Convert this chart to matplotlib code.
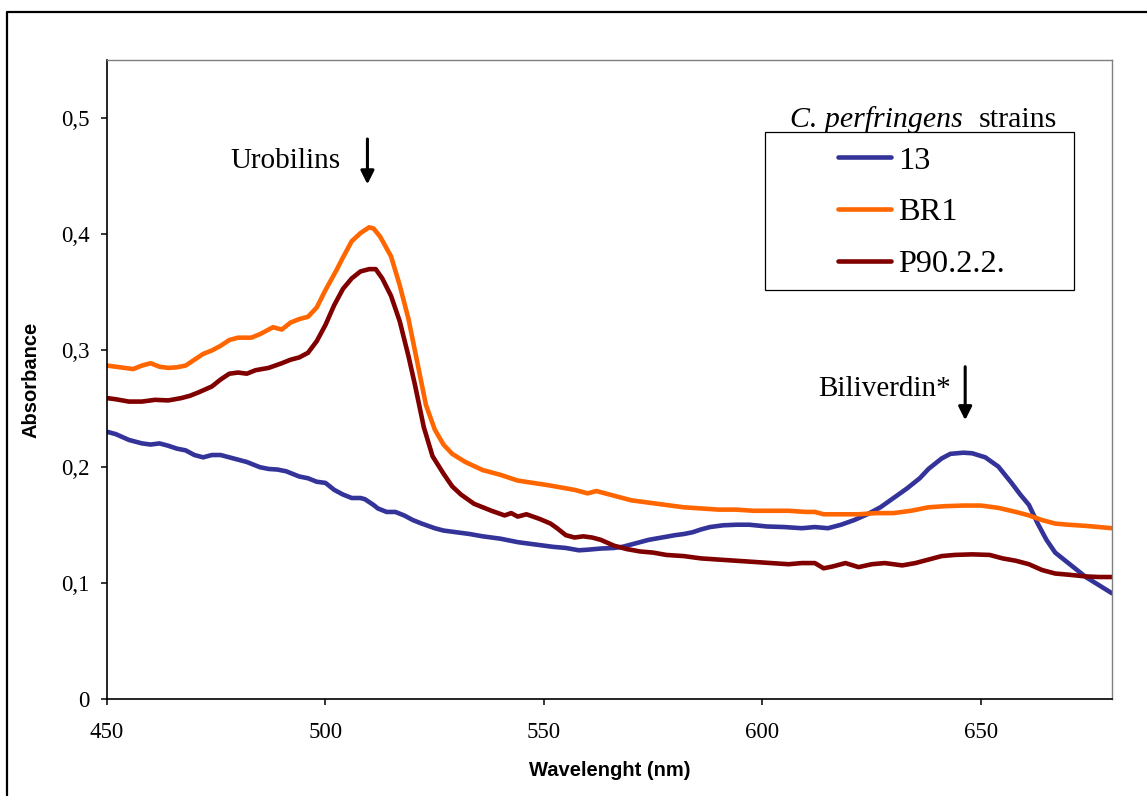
import matplotlib
matplotlib.use("Agg")
import matplotlib.pyplot as plt
from matplotlib.patches import Rectangle
from matplotlib.lines import Line2D

# absorbance spectra of culture supernatants
wl_13 = [450, 452, 455, 458, 460, 462, 464, 466, 468, 470, 472, 474, 476, 478, 480,
         482, 485, 487, 489, 491, 494, 496, 498, 500, 502, 504, 506, 508, 509, 511,
         512, 514, 516, 518, 520, 522, 525, 527, 530, 533, 536, 540, 544, 548, 552,
         555, 558, 560, 563, 566, 568, 571, 574, 577, 580, 582, 584, 586, 588, 591,
         594, 597, 601, 605, 609, 612, 615, 618, 621, 624, 627, 630, 633, 636, 638,
         641, 643, 646, 648, 651, 654, 657, 659, 661, 663, 665, 667, 670, 674, 677, 680]
abs_13 = [0.230, 0.228, 0.223, 0.220, 0.219, 0.220, 0.218, 0.2155, 0.214, 0.210, 0.208, 0.210, 0.210, 0.208, 0.206,
          0.204, 0.1995, 0.198, 0.1975, 0.196, 0.1915, 0.190, 0.187, 0.186, 0.180, 0.176, 0.173, 0.173, 0.172, 0.167,
          0.164, 0.161, 0.161, 0.158, 0.154, 0.151, 0.147, 0.145, 0.1435, 0.142, 0.140, 0.138, 0.135, 0.133, 0.131,
          0.130, 0.128, 0.1285, 0.1295, 0.130, 0.131, 0.134, 0.137, 0.139, 0.141, 0.142, 0.1435, 0.146, 0.148, 0.1495,
          0.150, 0.150, 0.1485, 0.148, 0.147, 0.148, 0.147, 0.150, 0.154, 0.159, 0.165, 0.173, 0.181, 0.190, 0.198,
          0.207, 0.211, 0.212, 0.2115, 0.208, 0.200, 0.186, 0.176, 0.167, 0.151, 0.137, 0.126, 0.117, 0.105, 0.098, 0.091]

wl_br1 = [450, 452, 454, 456, 458, 460, 462, 464, 466, 468, 470, 472, 474, 476, 478,
          480, 483, 485, 488, 490, 492, 494, 496, 498, 500, 502.5, 504, 506, 508, 510,
          511, 512.5, 515, 517, 519, 521, 523, 525, 527, 529, 532, 536, 540, 544, 547.5,
          551, 554, 557, 560, 562, 565, 570, 574, 578, 582, 586, 590, 594, 598, 602,
          606, 610, 612, 614, 618, 622, 626, 630, 634, 638, 642, 646, 650, 654, 658,
          661, 664, 667, 670, 674, 677, 680]
abs_br1 = [0.287, 0.286, 0.285, 0.284, 0.287, 0.289, 0.286, 0.285, 0.2855, 0.287, 0.292, 0.297, 0.300, 0.304, 0.309,
           0.311, 0.311, 0.314, 0.320, 0.318, 0.324, 0.327, 0.329, 0.337, 0.352, 0.369, 0.380, 0.394, 0.401, 0.406,
           0.405, 0.398, 0.381, 0.356, 0.327, 0.290, 0.253, 0.232, 0.219, 0.211, 0.204, 0.197, 0.193, 0.188, 0.186,
           0.184, 0.182, 0.180, 0.177, 0.179, 0.176, 0.171, 0.169, 0.167, 0.165, 0.164, 0.163, 0.163, 0.162, 0.162,
           0.162, 0.161, 0.161, 0.159, 0.159, 0.159, 0.160, 0.160, 0.162, 0.165, 0.166, 0.1665, 0.1665, 0.1645, 0.161,
           0.158, 0.154, 0.151, 0.150, 0.149, 0.148, 0.147]

wl_p90 = [450, 452, 455, 458, 461, 464, 467, 469, 471, 474, 476, 478, 480, 482, 484,
          487, 490, 492, 494, 496, 498, 500, 502, 504, 506, 508, 510, 511.5, 513, 515,
          517, 519, 520.5, 522.5, 524.5, 527, 529, 531, 534, 538, 541, 542.5, 544, 546, 549,
          551.5, 553, 555, 557, 559, 561, 563, 566, 569, 572, 575, 578, 582, 586, 590,
          594, 598, 602, 606, 609, 612, 614, 616, 619, 622, 625, 628, 632, 635, 638,
          641, 644, 648, 652, 655, 658, 661, 664, 667, 670, 674, 677, 680]
abs_p90 = [0.259, 0.258, 0.256, 0.256, 0.2575, 0.257, 0.259, 0.261, 0.264, 0.269, 0.275, 0.280, 0.281, 0.280, 0.283,
           0.285, 0.289, 0.292, 0.294, 0.298, 0.308, 0.322, 0.339, 0.353, 0.362, 0.368, 0.370, 0.370, 0.362, 0.347,
           0.325, 0.295, 0.270, 0.234, 0.209, 0.194, 0.183, 0.176, 0.168, 0.162, 0.158, 0.160, 0.157, 0.159, 0.155,
           0.151, 0.147, 0.141, 0.139, 0.140, 0.139, 0.137, 0.132, 0.129, 0.127, 0.126, 0.124, 0.123, 0.121, 0.120,
           0.119, 0.118, 0.117, 0.116, 0.117, 0.117, 0.1125, 0.114, 0.117, 0.1135, 0.116, 0.117, 0.115, 0.117, 0.120,
           0.123, 0.124, 0.1245, 0.124, 0.121, 0.119, 0.116, 0.111, 0.108, 0.107, 0.1055, 0.105, 0.105]

labels = ["13", "BR1", "P90.2.2."]
colors = ["#333399", "#FF6600", "#800000"]

xticks = [450, 500, 550, 600, 650]
yticks = [0, 0.1, 0.2, 0.3, 0.4, 0.5]
ytick_labels = ["0", "0,1", "0,2", "0,3", "0,4", "0,5"]

serif = "Liberation Serif"
sans = "Liberation Sans"
W, H = 1147, 796

fig = plt.figure(figsize=(W / 100, H / 100), dpi=100)
ax = fig.add_axes([107 / W, 1 - 699 / H, 1005 / W, 639 / H])

for wl, a, lab, c in zip([wl_13, wl_br1, wl_p90], [abs_13, abs_br1, abs_p90], labels, colors):
    ax.plot(wl, a, color=c, lw=3.3, label=lab, solid_capstyle="round", solid_joinstyle="round")

ax.set_xlim(450, 680)
ax.set_ylim(0, 0.55)
ax.set_xticks(xticks)
ax.set_xticklabels([str(t) for t in xticks], fontfamily=serif, fontsize=16.5)
ax.set_yticks(yticks)
ax.set_yticklabels(ytick_labels, fontfamily=serif, fontsize=16.5)
ax.tick_params(axis="both", direction="out", length=4, width=1.1, color="black")
ax.tick_params(axis="y", pad=8.5)
ax.tick_params(axis="x", pad=12.5)

for side in ["left", "bottom"]:
    ax.spines[side].set_linewidth(1.2)
    ax.spines[side].set_color("black")
for side in ["top", "right"]:
    ax.spines[side].set_linewidth(1.0)
    ax.spines[side].set_color("#7f7f7f")

ax.set_xlabel("Wavelenght (nm)", fontfamily=sans, fontweight="bold", fontsize=14.5)
ax.set_ylabel("Absorbance", fontfamily=sans, fontweight="bold", fontsize=14.5)
ax.xaxis.set_label_coords(0.5005, -0.097)
ax.yaxis.set_label_coords(-0.0657, 0.499)

# peak markers
arrow = dict(arrowstyle="-|>", color="black", lw=2.2, mutation_scale=20, shrinkA=0, shrinkB=0)
ax.annotate("", xy=(509.6, 0.443), xytext=(509.6, 0.482), arrowprops=arrow)
ax.text(503.4, 0.463, "Urobilins", fontfamily=serif, fontsize=21, ha="right", va="center")
ax.annotate("", xy=(646.4, 0.240), xytext=(646.4, 0.286), arrowprops=arrow)
ax.text(643.2, 0.267, "Biliverdin*", fontfamily=serif, fontsize=21, ha="right", va="center")

# legend with its own box and a title above it
ax.add_patch(Rectangle((765 / W, 1 - 290 / H), 309 / W, 158 / H, transform=fig.transFigure,
                       facecolor="white", edgecolor="black", lw=0.9, zorder=4, clip_on=False))
ax.legend(loc="upper left", bbox_to_anchor=(838 / W, 1 - 146 / H), bbox_transform=fig.transFigure,
          frameon=False, borderpad=0, borderaxespad=0, handlelength=1.65, handletextpad=0.2,
          labelspacing=0.68, prop={"family": serif, "size": 23.3})
fig.text(963 / W, 1 - 127 / H, "C. perfringens", fontfamily=serif, style="italic", fontsize=21.5,
         ha="right", va="baseline")
fig.text(979 / W, 1 - 127 / H, "strains", fontfamily=serif, fontsize=21.5, ha="left", va="baseline")

# outer chart frame, running off the right and bottom edges
fig.add_artist(Line2D([7 / W, 7 / W, 1.01], [-0.01, 1 - 12 / H, 1 - 12 / H],
                      transform=fig.transFigure, color="black", lw=1.6))

fig.savefig("out.png", dpi=100)
